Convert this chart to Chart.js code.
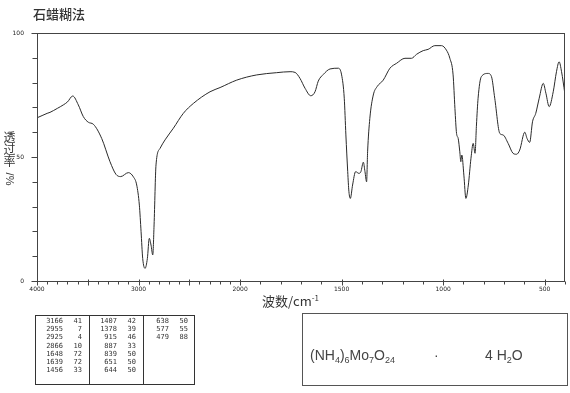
<!DOCTYPE html>
<html>
<head>
<meta charset="utf-8">
<script src="https://cdn.jsdelivr.net/npm/chart.js@4"></script>
<style>
  body { margin: 0; background: #fff; }
  #wrap { position: relative; width: 570px; height: 393px; overflow: hidden; background: #fff; }
  #c { position: absolute; left: 0; top: 0; }
  .txt { position: absolute; color: #333; white-space: nowrap; }
  #title { left: 33px; top: 4px; font: 500 13px "Noto Sans CJK SC", sans-serif; }
  #ytitle { left: 3px; top: 131px; width: 13px; font: 12px "Noto Sans CJK SC", sans-serif; line-height: 12px; text-align: center; }
  #ytitle .rot { display: block; margin-top: 6px; transform: rotate(90deg); font: 11px "Liberation Sans", sans-serif; }
  #xtitle { left: 262px; top: 290px; font: 13px "Noto Sans CJK SC", sans-serif; line-height: 16px; }
  #xtitle sup { font-size: 8px; vertical-align: 5px; }
  #peaks { position: absolute; left: 35px; top: 315px; width: 158px; height: 68px; border: 1px solid #333; display: flex; }
  #peaks .col { height: 100%; box-sizing: border-box; padding-top: 1px; font: 7px "DejaVu Sans Mono", monospace; line-height: 8.17px; color: #333; }
  #peaks .col + .col { border-left: 1px solid #333; }
  #peaks .row { display: flex; }
  #peaks .wn { display: inline-block; text-align: right; }
  #peaks .tv { display: inline-block; width: 19px; text-align: right; }
  #formulaBox { position: absolute; left: 302px; top: 313px; width: 264px; height: 71px; border: 1px solid #555; }
  .f { position: absolute; top: 347px; font: 14px "Liberation Sans", sans-serif; color: #444; }
  .f sub { font-size: 9px; vertical-align: -3px; }
</style>
</head>
<body>
<div id="wrap">
  <canvas id="c" width="570" height="393"></canvas>
  <div id="title" class="txt">石蜡糊法</div>
  <div id="ytitle" class="txt">透<br>过<br>率<span class="rot">/%</span></div>
  <div id="xtitle" class="txt">波数/cm<sup>-1</sup></div>
  <div id="peaks"></div>
  <div id="formulaBox"></div>
  <div class="f" style="left:310px">(NH<sub>4</sub>)<sub>6</sub>Mo<sub>7</sub>O<sub>24</sub></div>
  <div class="f" style="left:434px">·</div>
  <div class="f" style="left:485px">4 H<sub>2</sub>O</div>
</div>
<script>
// IR spectrum, paraffin mull. Wavenumber axis is split: 4000-2000 at half scale.

const WAVENUMBERS = [
    4000, 3950, 3900, 3872, 3800, 3741, 3700, 3648, 3593, 3544, 3494, 3445, 3363, 3281,
    3222, 3176, 3100, 3051, 3018, 2992, 2975, 2959, 2936, 2913, 2894, 2877, 2860, 2847,
    2828, 2788, 2739, 2657, 2559, 2460, 2296, 2197, 2033, 1918, 1820, 1754, 1729, 1705,
    1680, 1652, 1631, 1615, 1590, 1557, 1516, 1500, 1487, 1479, 1470, 1464, 1457, 1446,
    1431, 1415, 1405, 1393, 1385, 1377, 1372, 1361, 1344, 1325, 1295, 1262, 1229, 1188,
    1156, 1131, 1098, 1074, 1041, 1008, 984, 967, 951, 942, 934, 926, 918, 913, 908, 898,
    888, 876, 863, 852, 843, 836, 828, 812, 779, 762, 746, 721, 705, 680, 656, 639, 623,
    598, 587, 574, 560, 544, 527, 507, 494, 478, 458, 442, 429, 417, 401
];
const TRANSMITTANCE = [
    65.8, 66.7, 67.6, 68.0, 69.6, 71.0, 72.2, 74.6, 71.0, 66.3, 64.0, 63.2, 57.5, 48.1,
    43.0, 42.1, 43.7, 42.0, 38.7, 30.6, 19.9, 9.1, 5.1, 9.1, 17.2, 14.5, 10.5, 22.6,
    46.8, 53.5, 56.9, 61.6, 67.6, 71.6, 76.3, 78.0, 81.0, 83.1, 84.0, 84.4, 84.1, 81.7,
    77.7, 74.7, 76.3, 80.6, 83.3, 85.5, 85.8, 83.1, 73.7, 58.9, 44.1, 36.0, 33.3, 38.7,
    44.1, 43.4, 44.1, 47.9, 44.1, 40.0, 52.1, 65.6, 75.0, 78.4, 81.0, 85.8, 87.8, 89.8,
    89.8, 91.4, 92.9, 93.4, 94.9, 94.9, 93.1, 89.8, 83.1, 69.6, 59.5, 57.5, 52.1, 48.1, 50.8, 42.7,
    33.3, 38.7, 49.5, 55.5, 51.5, 62.9, 73.7, 82.4, 83.7, 82.4, 73.7, 59.5, 58.9, 55.5, 51.5, 51.1, 52.8,
    60.0, 57.5, 55.9, 64.2, 67.6, 73.7, 79.7, 75.7, 70.3, 76.3, 84.4, 88.4, 84.4, 75.7
];

// peak list printed under the spectrum
const PEAK_WN = [3166, 2955, 2925, 2866, 1648, 1639, 1456, 1407, 1378, 915, 887, 839, 651, 644, 638, 577, 479];
const PEAK_T  = [41, 7, 4, 10, 72, 72, 33, 42, 39, 46, 33, 50, 50, 50, 50, 55, 88];

const X_LABELS = [4000, 3000, 2000, 1500, 1000, 500];
const X_MAJOR = [4000, 3500, 3000, 2500, 2000, 1500, 1000, 500];
const Y_LABELS = [0, 50, 100];

// axis units: 4000..2000 squeezed to half, then 1 unit per cm-1
const toAxis = w => w >= 2000 ? (4000 - w) / 2 : 1000 + (2000 - w);
const fromAxis = u => Math.round(u <= 1000 ? 4000 - 2 * u : 2000 - (u - 1000));

const TICK_FONT = { family: '"DejaVu Sans", sans-serif', size: 6 };

// frame + minor/major tick marks
const axisDecor = {
    id: 'axisDecor',
    afterDraw(chart) {
        const { ctx, chartArea: a, scales: { x, y } } = chart;
        ctx.save();
        ctx.strokeStyle = '#444';
        ctx.lineWidth = 1;
        const L = Math.round(a.left) + 0.5, R = Math.round(a.right) - 0.5;
        const T = Math.round(a.top) + 0.5, B = Math.round(a.bottom) + 0.5;
        ctx.strokeRect(L, T, R - L, B - T);
        ctx.beginPath();
        for (let w = 4000; w >= 400; w -= 100) {
            const px = Math.round(x.getPixelForValue(toAxis(w))) + 0.5;
            const major = X_MAJOR.includes(w);
            ctx.moveTo(px, major ? B - 2 : B);
            ctx.lineTo(px, B + (major ? 4 : 3));
        }
        for (let t = 0; t <= 100; t += 10) {
            const py = Math.round(y.getPixelForValue(t)) + 0.5;
            ctx.moveTo(L - (t % 50 === 0 ? 6 : 5), py);
            ctx.lineTo(L, py);
        }
        ctx.stroke();
        ctx.restore();
    }
};

function buildPeakTable() {
    const box = document.getElementById('peaks');
    const widths = [53, 54, 51];
    const wnW = [27, 27, 25];
    for (let c = 0; c < 3; c++) {
        const col = document.createElement('div');
        col.className = 'col';
        col.style.width = widths[c] + 'px';
        for (let i = c * 7; i < Math.min(c * 7 + 7, PEAK_WN.length); i++) {
            const row = document.createElement('div');
            row.className = 'row';
            row.innerHTML = '<span class="wn" style="width:' + wnW[c] + 'px">' + PEAK_WN[i] +
                '</span><span class="tv">' + PEAK_T[i] + '</span>';
            col.appendChild(row);
        }
        box.appendChild(col);
    }
}

buildPeakTable();

new Chart(document.getElementById('c'), {
    type: 'line',
    data: {
        datasets: [{
            data: WAVENUMBERS.map((w, i) => ({ x: toAxis(w), y: TRANSMITTANCE[i] })),
            borderColor: '#2a2a2a',
            borderWidth: 1,
            pointRadius: 0,
            cubicInterpolationMode: 'monotone',
            fill: false
        }]
    },
    options: {
        responsive: false,
        animation: false,
        layout: { padding: { top: 33, right: 5, bottom: 92, left: 0 } },
        plugins: { legend: { display: false }, tooltip: { enabled: false }, title: { display: false } },
        scales: {
            x: {
                type: 'linear', min: 0, max: 2600,
                afterBuildTicks: s => { s.ticks = X_LABELS.map(w => ({ value: toAxis(w) })); },
                afterFit: s => { s.height = 20; },
                ticks: { autoSkip: false, maxRotation: 0, padding: 5, color: '#222', font: TICK_FONT, callback: v => fromAxis(v) },
                grid: { display: false, drawTicks: false },
                border: { display: false }
            },
            y: {
                min: 0, max: 100,
                afterBuildTicks: s => { s.ticks = Y_LABELS.map(v => ({ value: v })); },
                afterFit: s => { s.width = 37; },
                ticks: { padding: 13, color: '#222', font: TICK_FONT },
                grid: { display: false, drawTicks: false },
                border: { display: false }
            }
        }
    },
    plugins: [axisDecor]
});
</script>
</body>
</html>
